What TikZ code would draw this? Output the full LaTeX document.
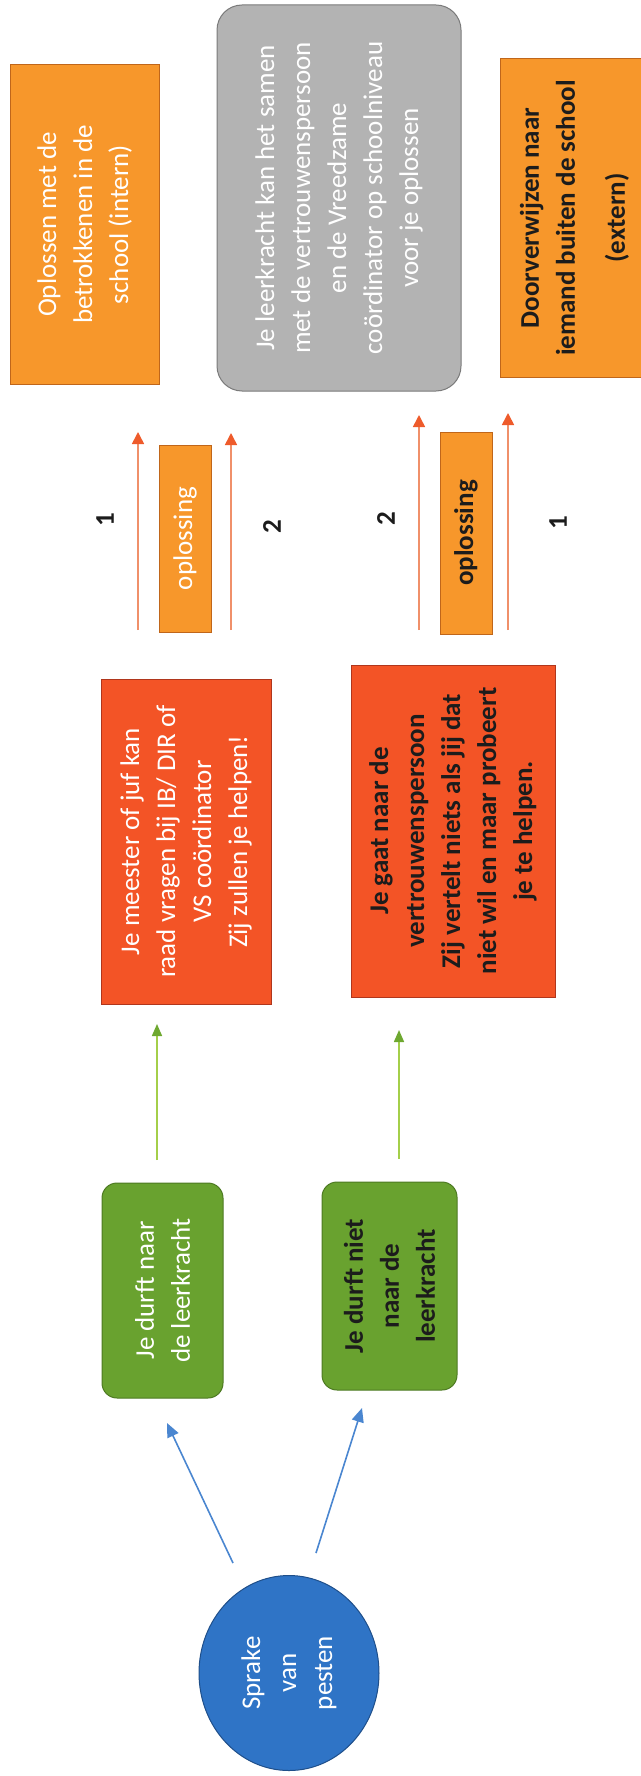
\documentclass[tikz,border=0pt]{standalone}
\usepackage{fontspec}
\setmainfont{Carlito}
\usetikzlibrary{arrows.meta, shapes.geometric}

\definecolor{oranjevak}{HTML}{F7972B}
\definecolor{oranjerand}{HTML}{C0661A}
\definecolor{roodvak}{HTML}{F35426}
\definecolor{roodrand}{HTML}{B0361C}
\definecolor{groenvak}{HTML}{69A22F}
\definecolor{groenrand}{HTML}{4D7A22}
\definecolor{blauwvak}{HTML}{2F74C6}
\definecolor{blauwrand}{HTML}{1F4F8A}
\definecolor{grijsvak}{HTML}{B3B3B3}
\definecolor{grijsrand}{HTML}{7A7A7A}
\definecolor{pijlblauw}{HTML}{4A86D0}
\definecolor{pijlgroen}{HTML}{A4CF4A}
\definecolor{kopgroen}{HTML}{6EA830}
\definecolor{pijloranje}{HTML}{F0906A}
\definecolor{koporanje}{HTML}{EE5B2B}
\definecolor{donker}{HTML}{1C1C1C}

\begin{document}
\begin{tikzpicture}[x=0.5pt, y=-0.5pt,
    every node/.style={rotate=90, inner sep=0pt, align=center,
      font=\fontsize{13.5}{18}\selectfont},
    vak/.style={line width=0.5pt},
    oranje/.style={vak, draw=oranjerand, fill=oranjevak},
    rood/.style={vak, draw=roodrand, fill=roodvak},
    groen/.style={vak, draw=groenrand, fill=groenvak, rounded corners=7.5pt},
    grijs/.style={vak, draw=grijsrand, fill=grijsvak, rounded corners=12.5pt},
    wit/.style={text=white},
    zwart/.style={text=donker, font=\fontsize{13.5}{18}\selectfont\bfseries},
    blauwpijl/.style={draw=pijlblauw, line width=0.8pt,
      -{Triangle[length=7pt, width=6pt]}},
    groenpijl/.style={draw=pijlgroen, line width=0.8pt,
      -{Triangle[length=6pt, width=5pt, color=kopgroen]}},
    oranjepijl/.style={draw=pijloranje, line width=0.8pt,
      -{Triangle[length=6pt, width=6pt, color=koporanje]}}]
  \clip (0,0) rectangle (641,1776);

  \node[ellipse, draw=blauwrand, fill=blauwvak, vak, wit,
    minimum width=97.5pt, minimum height=90pt] (pesten) at (289,1673)
    {Sprake\\van\\pesten};

  \node[groen, wit, minimum width=107.5pt, minimum height=60.5pt]
    (durft) at (162.5,1290.5) {Je durft naar\\de leerkracht};
  \node[groen, zwart, minimum width=104pt, minimum height=67.5pt]
    (durftniet) at (389.5,1286) {Je durft niet\\naar de\\leerkracht};

  \node[rood, wit, minimum width=162.5pt, minimum height=85pt]
    (meester) at (186,841.5)
    {Je meester of juf kan\\raad vragen bij IB/ DIR of\\VS coördinator\\Zij zullen je helpen!};
  \node[rood, zwart, minimum width=166pt, minimum height=102pt]
    (vertrouwen) at (453,831)
    {Je gaat naar de\\vertrouwenspersoon\\Zij vertelt niets als jij dat\\niet wil en maar probeert\\je te helpen.};

  \node[oranje, wit, minimum width=93.5pt, minimum height=26pt]
    (opl1) at (185,538.5) {oplossing};
  \node[oranje, zwart, minimum width=101pt, minimum height=26pt]
    (opl2) at (466,533) {oplossing};

  \node[zwart] (een1) at (105,520) {1};
  \node[zwart] (twee1) at (272,527) {2};
  \node[zwart] (twee2) at (386,519) {2};
  \node[zwart] (een2) at (558,523) {1};

  \node[oranje, wit, minimum width=159.5pt, minimum height=74.5pt]
    (intern) at (84.5,224.5) {Oplossen met de\\betrokkenen in de\\school (intern)};
  \node[grijs, wit, minimum width=193pt, minimum height=122pt]
    (samen) at (339,198)
    {Je leerkracht kan het samen\\met de vertrouwenspersoon\\en de Vreedzame\\coördinator op schoolniveau\\voor je oplossen};
  \node[oranje, zwart, minimum width=159pt, minimum height=74.5pt]
    (extern) at (574.5,218) {Doorverwijzen naar\\iemand buiten de school\\[7pt](extern)};

  % losse pijlen
  \coordinate (b1a) at (233,1563);
  \coordinate (b1b) at (167,1423);
  \coordinate (b2a) at (316,1553);
  \coordinate (b2b) at (362,1408);
  \coordinate (g1a) at (157,1160);
  \coordinate (g1b) at (157,1024);
  \coordinate (g2a) at (399,1159);
  \coordinate (g2b) at (399,1030);
  \coordinate (o1a) at (138,630);
  \coordinate (o1b) at (138,432);
  \coordinate (o2a) at (231,630);
  \coordinate (o2b) at (231,433);
  \coordinate (o3a) at (419,630);
  \coordinate (o3b) at (419,415);
  \coordinate (o4a) at (508,630);
  \coordinate (o4b) at (508,413);

  \draw[blauwpijl] (b1a) -- (b1b);
  \draw[blauwpijl] (b2a) -- (b2b);
  \draw[groenpijl] (g1a) -- (g1b);
  \draw[groenpijl] (g2a) -- (g2b);
  \foreach \p in {o1,o2,o3,o4}
    \draw[oranjepijl] (\p a) -- (\p b);
\end{tikzpicture}
\end{document}
